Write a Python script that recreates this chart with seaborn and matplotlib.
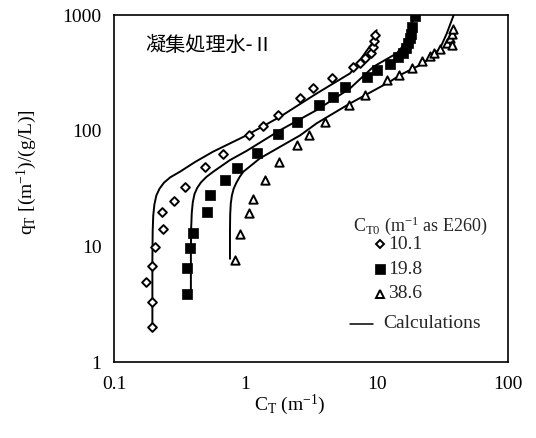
import matplotlib
matplotlib.use("Agg")
import matplotlib.pyplot as plt
import seaborn as sns

# ---- data ----
d1_x = [0.196, 0.194, 0.174, 0.196, 0.205, 0.237, 0.233, 0.286, 0.345, 0.493, 0.68, 1.07,
        1.37, 1.78, 2.61, 3.3, 4.55, 6.65, 7.5, 8.2, 9.1, 9.45, 9.6, 9.8]
d1_y = [2.0, 3.3, 4.9, 6.7, 9.9, 14, 19.8, 24.5, 32.5, 49, 63, 92,
        110, 138, 192, 232, 286, 357, 388, 421, 470, 530, 595, 670]

d2_x = [0.358, 0.358, 0.381, 0.40, 0.508, 0.539, 0.70, 0.87, 1.23, 1.77, 2.46, 3.66, 4.68,
        5.74, 8.4, 10.1, 12.6, 14.5, 15.8, 16.6, 17.4, 17.9, 18.2, 18.5, 19.6]
d2_y = [3.9, 6.5, 9.7, 13.1, 19.7, 27.7, 37.5, 48, 64, 93, 118, 166, 196,
        239, 292, 334, 374, 430, 470, 520, 570, 630, 690, 790, 990]

d3_x = [0.835, 0.91, 1.06, 1.14, 1.40, 1.82, 2.46, 3.07, 4.04, 6.2, 8.2, 11.9, 14.8,
        18.7, 22.3, 25.5, 27.5, 30.4, 34.2, 36.2, 37.5, 38.4, 37.8]
d3_y = [7.6, 12.8, 19.3, 25.5, 37.4, 54, 75, 92, 118, 168, 205, 275, 305,
        350, 400, 440, 470, 510, 575, 630, 690, 760, 550]

c1_x = [0.196, 0.196, 0.197, 0.199, 0.203, 0.210, 0.222, 0.240, 0.268, 0.318, 0.414, 0.567,
        1.03, 1.84, 3.50, 6.27, 7.05, 8.45, 9.44, 10.0]
c1_y = [1.89, 7.6, 13.5, 18.5, 23.0, 27.5, 31.5, 35.5, 39.5, 44.2, 53.6, 65.8,
        91.6, 132, 210, 313, 369, 497, 587, 740]

c2_x = [0.385, 0.385, 0.387, 0.391, 0.398, 0.410, 0.430, 0.460, 0.505, 0.570, 0.764, 1.025,
        1.84, 3.50, 6.27, 9.44, 14.2, 16.9, 18.5, 19.8]
c2_y = [3.8, 9.3, 14.5, 19.5, 24.0, 28.3, 32.0, 35.8, 39.8, 44.2, 55.7, 67,
        101, 151, 232, 357, 466, 587, 846, 1000]

c3_x = [0.764, 0.764, 0.767, 0.775, 0.790, 0.815, 0.855, 0.905, 0.966, 1.29, 1.84, 2.61,
        3.50, 6.27, 12.6, 15.1, 22.7, 30.4, 34.2, 38.6]
c3_y = [7.8, 13.8, 19.0, 23.5, 27.5, 31.5, 35.5, 39.8, 44.2, 57.6, 72.6, 91,
        116, 172, 265, 303, 382, 514, 693, 1000]

legend_title = r"C$_\mathrm{T0}$ (m$^{\mathrm{-1}}$ as E260)"
series_labels = ["10.1", "19.8", "38.6"]
calc_label = "Calculations"
panel_title = "凝集処理水-Ⅱ"
x_ticks = [0.1, 1, 10, 100]
x_ticklabels = ["0.1", "1", "10", "100"]
y_ticks = [1, 10, 100, 1000]
y_ticklabels = ["1", "10", "100", "1000"]

# ---- style ----
sns.set_style("white")
plt.rcParams["font.family"] = ["Liberation Serif", "DejaVu Serif"]
plt.rcParams["mathtext.fontset"] = "custom"
plt.rcParams["mathtext.rm"] = "Liberation Serif"
plt.rcParams["mathtext.it"] = "Liberation Serif:italic"
plt.rcParams["mathtext.bf"] = "Liberation Serif:bold"

fig = plt.figure(figsize=(5.36, 4.38), dpi=100)
ax = fig.add_axes([0.2127, 0.1735, 0.735, 0.7922])
ax.set_xscale("log")
ax.set_yscale("log")
ax.set_xlim(0.1, 100)
ax.set_ylim(1, 1000)

line_kw = dict(color="black", linewidth=1.4, sort=False, estimator=None, legend=False)
for cx, cy in [(c1_x, c1_y), (c2_x, c2_y), (c3_x, c3_y)]:
    sns.lineplot(x=cx, y=cy, ax=ax, **line_kw)

sns.scatterplot(x=d1_x, y=d1_y, ax=ax, marker="D", s=20, facecolor="white",
                edgecolor="black", linewidth=1.4, zorder=3, legend=False)
sns.scatterplot(x=d2_x, y=d2_y, ax=ax, marker="s", s=45, color="black",
                edgecolor="black", linewidth=0.5, zorder=3, legend=False)
sns.scatterplot(x=d3_x, y=d3_y, ax=ax, marker="^", s=36, facecolor="white",
                edgecolor="black", linewidth=1.4, zorder=3, legend=False)

ax.set_xticks(x_ticks)
ax.set_xticklabels(x_ticklabels)
ax.set_yticks(y_ticks)
ax.set_yticklabels(y_ticklabels)
ax.minorticks_off()
ax.tick_params(axis="both", which="major", direction="in", length=5, width=1.1,
               labelsize=14, color="black", labelcolor="black")
ax.tick_params(axis="x", pad=10)
ax.tick_params(axis="y", pad=9)
for sp in ax.spines.values():
    sp.set_color("black")
    sp.set_linewidth(1.2)

ax.set_xlabel(r"C$_\mathrm{T}$ (m$^{\mathrm{-1}}$)", fontsize=14, color="black")
ax.xaxis.set_label_coords(0.447, -0.088)
ax.set_ylabel(r"q$_\mathrm{T}$ [(m$^{\mathrm{-1}}$)/(g/L)]", fontsize=14, color="black")
ax.yaxis.set_label_coords(-0.19, 0.548)

ax.text(0.079, 0.911, panel_title, transform=ax.transAxes, fontsize=14.5,
        family=["Noto Sans CJK JP", "DejaVu Sans"], ha="left", va="center", color="black")

# ---- manual legend ----
T = ax.transAxes
ax.text(0.607, 0.392, legend_title, transform=T, fontsize=13, ha="left", va="center")
mk = [dict(marker="D", ms=4.2, mfc="white", mec="black", mew=1.4),
      dict(marker="s", ms=6.5, mfc="black", mec="black", mew=0.5),
      dict(marker="^", ms=6.0, mfc="white", mec="black", mew=1.4)]
ys = [0.339, 0.268, 0.196]
for lab, kw, yy in zip(series_labels, mk, ys):
    ax.plot([0.675], [yy], transform=T, linestyle="none", clip_on=False, **kw)
    ax.text(0.695, yy, lab, transform=T, fontsize=14, ha="left", va="center")
ax.plot([0.599, 0.657], [0.110, 0.110], transform=T, color="black", linewidth=1.1)
ax.text(0.683, 0.110, calc_label, transform=T, fontsize=14, ha="left", va="center")

fig.savefig("out.png", dpi=100)
